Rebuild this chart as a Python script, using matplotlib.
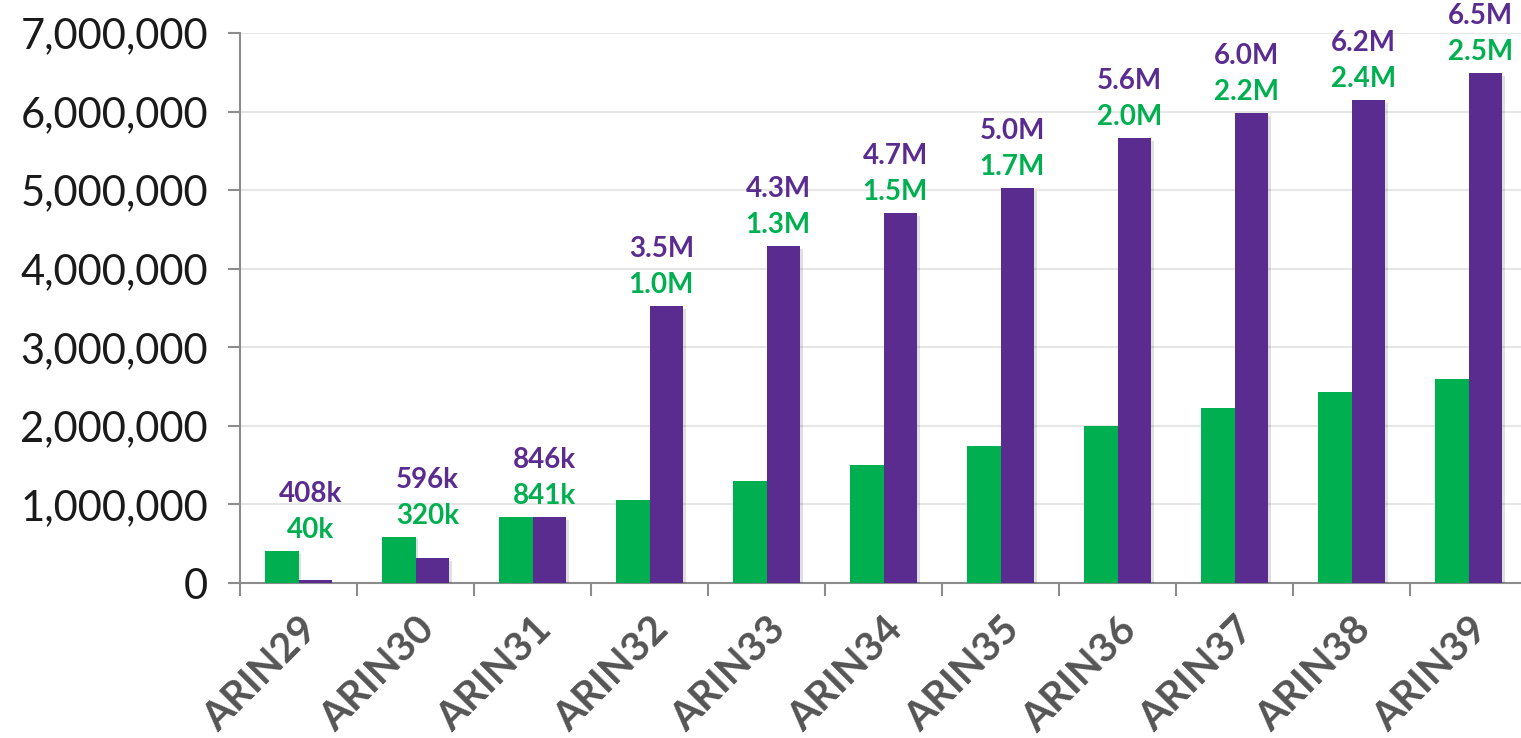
import matplotlib.pyplot as plt
import matplotlib.patheffects as pe
from matplotlib.ticker import FuncFormatter, MultipleLocator
import numpy as np

# categories and bar values
releases = ['ARIN29', 'ARIN30', 'ARIN31', 'ARIN32', 'ARIN33', 'ARIN34',
            'ARIN35', 'ARIN36', 'ARIN37', 'ARIN38', 'ARIN39']
green_vals = [408000, 590000, 846000, 1055000, 1300000, 1505000,
              1745000, 2000000, 2230000, 2430000, 2600000]
purple_vals = [40000, 320000, 841000, 3525000, 4290000, 4710000,
               5025000, 5660000, 5985000, 6150000, 6490000]

# data labels as they appear above each group
purple_labels = ['408k', '596k', '846k', '3.5M', '4.3M', '4.7M',
                 '5.0M', '5.6M', '6.0M', '6.2M', '6.5M']
green_labels = ['40k', '320k', '841k', '1.0M', '1.3M', '1.5M',
                '1.7M', '2.0M', '2.2M', '2.4M', '2.5M']

GREEN = '#00b050'
PURPLE = '#5b2c8f'
SPINE = '#8c8c8c'

plt.rcParams['font.family'] = ['Lato', 'DejaVu Sans']

fig = plt.figure(figsize=(15.21, 7.38), dpi=100)
ax = fig.add_axes([0.1578, 0.21, 0.8462, 0.7453])

x = np.arange(len(releases))
w = 0.285
shadow = [pe.SimplePatchShadow(offset=(2, -2), shadow_rgbFace='#000000', alpha=0.12), pe.Normal()]
ax.bar(x - w / 2, green_vals, w, color=GREEN, zorder=3, path_effects=shadow)
ax.bar(x + w / 2, purple_vals, w, color=PURPLE, zorder=3, path_effects=shadow)

# stacked labels above the taller bar of each group
for i in range(len(releases)):
    top = max(green_vals[i], purple_vals[i])
    ax.annotate(green_labels[i], (x[i] + 0.1, top), xytext=(0, 15), textcoords='offset points',
                ha='center', va='center', color=GREEN, fontsize=20, fontweight='bold',
                annotation_clip=False)
    ax.annotate(purple_labels[i], (x[i] + 0.1, top), xytext=(0, 41), textcoords='offset points',
                ha='center', va='center', color=PURPLE, fontsize=20, fontweight='bold',
                annotation_clip=False)

ax.set_xlim(-0.5, len(releases) - 0.5)
ax.set_ylim(0, 7000000)
ax.yaxis.set_major_locator(MultipleLocator(1000000))
ax.yaxis.set_major_formatter(FuncFormatter(lambda v, p: f'{int(v):,}'))
ax.grid(axis='y', color='#e6e6e6', linewidth=1.5, zorder=0)

ax.set_xticks(x)
ax.set_xticklabels(releases, rotation=45, ha='right', rotation_mode='anchor',
                   fontsize=29, fontweight='bold', color='#555555')
ax.set_xticks(np.arange(len(releases) + 1) - 0.5, minor=True)
ax.tick_params(axis='x', which='major', length=0, pad=20)
ax.tick_params(axis='x', which='minor', length=9, width=1.5, color=SPINE)
ax.tick_params(axis='y', length=9, width=1.5, color=SPINE, labelsize=30,
               labelcolor='#1a1a1a', pad=14)

for s in ['top', 'right']:
    ax.spines[s].set_visible(False)
for s in ['left', 'bottom']:
    ax.spines[s].set_color(SPINE)
    ax.spines[s].set_linewidth(1.5)

plt.savefig('out.png', dpi=100)
